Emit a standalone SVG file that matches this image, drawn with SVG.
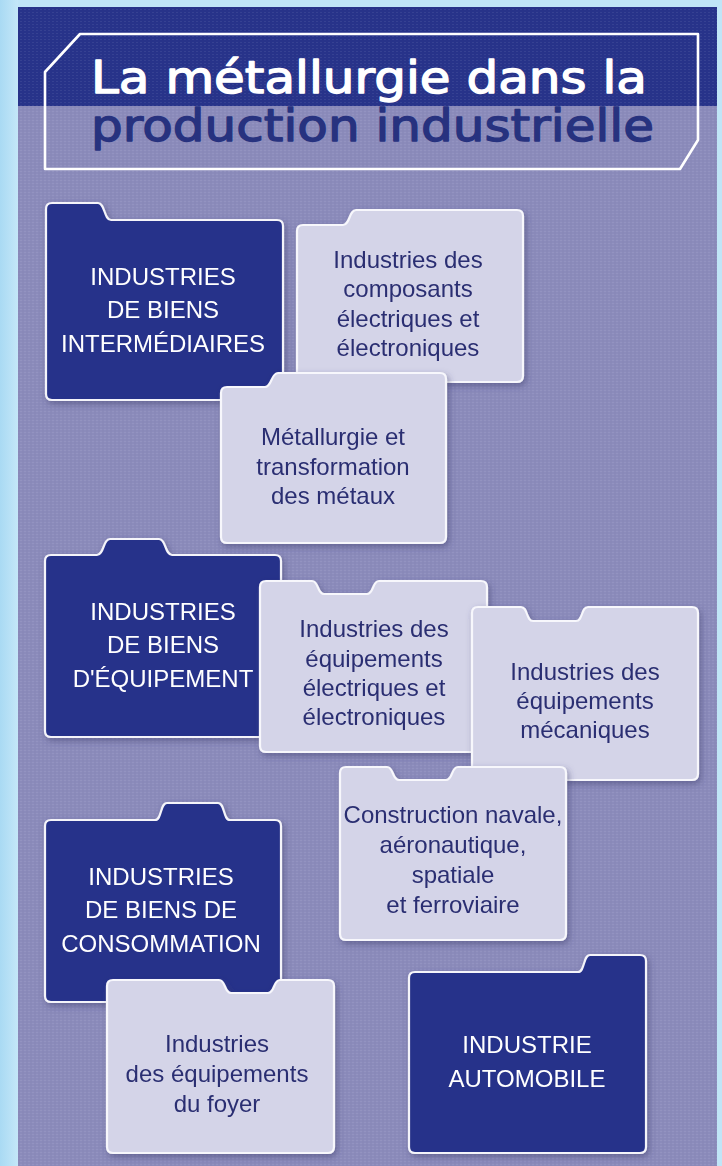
<svg xmlns="http://www.w3.org/2000/svg" width="722" height="1166" viewBox="0 0 722 1166">
<style>
.dark{fill:#28338a;stroke:#f4f4fa;stroke-width:2.2}
.light{fill:#d4d4e8;stroke:#f7f7fc;stroke-width:2.2}
.tw{font-family:"Liberation Sans",Arial,sans-serif;font-size:24px;fill:#ffffff;text-anchor:middle}
.tb{font-family:"Liberation Sans",Arial,sans-serif;font-size:24px;fill:#2b2f72;text-anchor:middle}
.title{font-family:"DejaVu Sans",sans-serif;font-weight:normal;font-size:44px;stroke-width:1.3;stroke-linejoin:round}
</style>
<defs>
<filter id="sh" x="-10%" y="-10%" width="125%" height="125%">
<feDropShadow dx="2" dy="3" stdDeviation="3" flood-color="#3b3b6e" flood-opacity="0.5"/>
</filter>
<pattern id="weave" width="4" height="3" patternUnits="userSpaceOnUse">
<rect x="0" y="0" width="2" height="1" fill="#ffffff" opacity="0.07"/>
<rect x="2" y="1.5" width="2" height="1" fill="#30306a" opacity="0.06"/>
</pattern>
<linearGradient id="side" x1="0" y1="0" x2="1" y2="0">
<stop offset="0" stop-color="#a9daf3"/>
<stop offset="1" stop-color="#c4e7f8"/>
</linearGradient>
</defs>

<!-- frame and background -->
<rect x="0" y="0" width="722" height="1166" fill="#c0e5f7"/>
<rect x="0" y="0" width="18" height="1166" fill="url(#side)"/>
<rect x="18" y="7" width="699" height="1159" fill="#8b8bbb"/>
<rect x="18" y="7" width="699" height="99" fill="#27338a"/>
<rect x="18" y="7" width="699" height="1159" fill="url(#weave)"/>

<!-- title -->
<g id="title">
<path d="M80,34 L698,34 L698,140 L680,169 L45,169 L45,72 Z" fill="none" stroke="#ffffff" stroke-width="2.6" stroke-linejoin="round"/>
<text class="title" x="91" y="93" fill="#ffffff" stroke="#ffffff" textLength="556" lengthAdjust="spacingAndGlyphs">La métallurgie dans la</text>
<text class="title" x="91" y="141" fill="#27327f" stroke="#27327f" textLength="563" lengthAdjust="spacingAndGlyphs">production industrielle</text>
</g>

<g id="connectors"></g>

<g id="node-intermediaires" filter="url(#sh)">
<path class="dark" d="M46,209 Q46,203 52,203 L98,203 C105,203 104,220 111,220 L277,220 Q283,220 283,226 L283,394 Q283,400 277,400 L52,400 Q46,400 46,394 Z"/>
<text class="tw" x="163" y="285">INDUSTRIES</text>
<text class="tw" x="163" y="318">DE BIENS</text>
<text class="tw" x="163" y="352">INTERMÉDIAIRES</text>
</g>

<g id="node-composants" filter="url(#sh)">
<path class="light" d="M297,231 Q297,225 303,225 L343,225 C350,225 349,210 356,210 L517,210 Q523,210 523,216 L523,376 Q523,382 517,382 L303,382 Q297,382 297,376 Z"/>
<text class="tb" x="408" y="268">Industries des</text>
<text class="tb" x="408" y="297">composants</text>
<text class="tb" x="408" y="327">électriques et</text>
<text class="tb" x="408" y="356">électroniques</text>
</g>

<g id="node-metallurgie" filter="url(#sh)">
<path class="light" d="M221,393 Q221,387 227,387 L265,387 C272,387 271,373 278,373 L440,373 Q446,373 446,379 L446,537 Q446,543 440,543 L227,543 Q221,543 221,537 Z"/>
<text class="tb" x="333" y="445">Métallurgie et</text>
<text class="tb" x="333" y="475">transformation</text>
<text class="tb" x="333" y="504">des métaux</text>
</g>

<g id="node-equipement" filter="url(#sh)">
<path class="dark" d="M45,561 Q45,555 51,555 L97,555 C104,555 103,539 110,539 L159,539 C166,539 165,555 172,555 L275,555 Q281,555 281,561 L281,731 Q281,737 275,737 L51,737 Q45,737 45,731 Z"/>
<text class="tw" x="163" y="620">INDUSTRIES</text>
<text class="tw" x="163" y="653">DE BIENS</text>
<text class="tw" x="163" y="687">D'ÉQUIPEMENT</text>
</g>

<g id="node-equip-elec" filter="url(#sh)">
<path class="light" d="M260,587 Q260,581 266,581 L312,581 C319,581 317,594 324,594 L367,594 C374,594 372,581 379,581 L481,581 Q487,581 487,587 L487,746 Q487,752 481,752 L266,752 Q260,752 260,746 Z"/>
<text class="tb" x="374" y="637">Industries des</text>
<text class="tb" x="374" y="667">équipements</text>
<text class="tb" x="374" y="696">électriques et</text>
<text class="tb" x="374" y="725">électroniques</text>
</g>

<g id="node-equip-meca" filter="url(#sh)">
<path class="light" d="M472,613 Q472,607 478,607 L521,607 C528,607 526,621 533,621 L576,621 C583,621 581,607 588,607 L692,607 Q698,607 698,613 L698,774 Q698,780 692,780 L478,780 Q472,780 472,774 Z"/>
<text class="tb" x="585" y="680">Industries des</text>
<text class="tb" x="585" y="709">équipements</text>
<text class="tb" x="585" y="738">mécaniques</text>
</g>

<g id="node-construction" filter="url(#sh)">
<path class="light" d="M340,773 Q340,767 346,767 L387,767 C394,767 392,780 399,780 L446,780 C453,780 451,767 458,767 L560,767 Q566,767 566,773 L566,934 Q566,940 560,940 L346,940 Q340,940 340,934 Z"/>
<text class="tb" x="453" y="823">Construction navale,</text>
<text class="tb" x="453" y="853">aéronautique,</text>
<text class="tb" x="453" y="883">spatiale</text>
<text class="tb" x="453" y="913">et ferroviaire</text>
</g>

<g id="node-consommation" filter="url(#sh)">
<path class="dark" d="M45,826 Q45,820 51,820 L155,820 C162,820 160,803 167,803 L218,803 C225,803 223,820 230,820 L275,820 Q281,820 281,826 L281,996 Q281,1002 275,1002 L51,1002 Q45,1002 45,996 Z"/>
<text class="tw" x="161" y="885">INDUSTRIES</text>
<text class="tw" x="161" y="918">DE BIENS DE</text>
<text class="tw" x="161" y="952">CONSOMMATION</text>
</g>

<g id="node-foyer" filter="url(#sh)">
<path class="light" d="M107,986 Q107,980 113,980 L219,980 C226,980 224,993 231,993 L268,993 C275,993 273,980 280,980 L328,980 Q334,980 334,986 L334,1147 Q334,1153 328,1153 L113,1153 Q107,1153 107,1147 Z"/>
<text class="tb" x="217" y="1052">Industries</text>
<text class="tb" x="217" y="1082">des équipements</text>
<text class="tb" x="217" y="1112">du foyer</text>
</g>

<g id="node-automobile" filter="url(#sh)">
<path class="dark" d="M409,978 Q409,972 415,972 L578,972 C585,972 583,955 590,955 L640,955 Q646,955 646,961 L646,1147 Q646,1153 640,1153 L415,1153 Q409,1153 409,1147 Z"/>
<text class="tw" x="527" y="1053">INDUSTRIE</text>
<text class="tw" x="527" y="1087">AUTOMOBILE</text>
</g>
</svg>
